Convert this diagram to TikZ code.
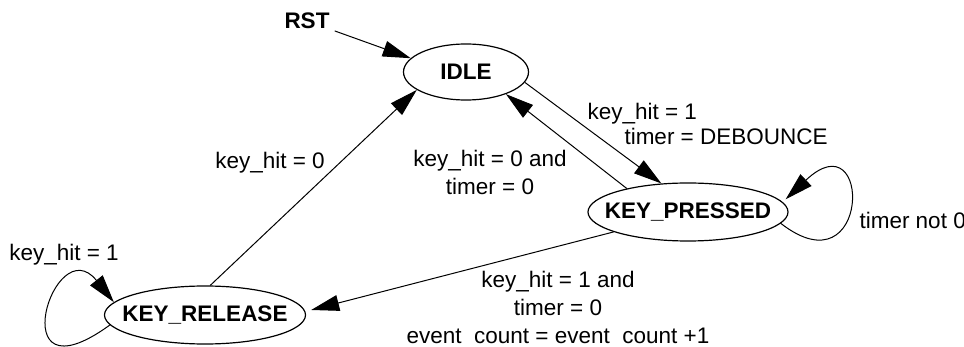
\documentclass[tikz,border=0pt]{standalone}
\usepackage{fontspec}
\setmainfont{Liberation Sans}
\usetikzlibrary{shapes.geometric, arrows.meta}

\begin{document}
\begin{tikzpicture}[x=1pt, y=1pt, line width=1pt,
    every node/.style={font=\fontsize{22.5}{28}\selectfont, inner sep=0pt},
    fsmstate/.style={ellipse, draw, line width=1.2pt, inner xsep=-20pt, minimum height=58pt,
      font=\fontsize{22.5}{28}\selectfont\bfseries},
    trans/.style={-{Triangle[length=28pt, width=16pt]}}]
    \useasboundingbox (0,0) rectangle (964,-347);

    % states
    \node[font=\fontsize{22.5}{28}\selectfont\bfseries] (rst) at (307,-21) {RST};
    \node[fsmstate, minimum width=125pt, minimum height=56pt] (idle) at (466,-72) {IDLE};
    \node[fsmstate, minimum width=200pt] (pressed) at (688,-212) {KEY\_PRESSED};
    \node[fsmstate, minimum width=201pt] (release) at (205,-315) {KEY\_RELEASE};

    % transition labels
    \node[anchor=west, align=left] (lhit) at (587,-124) {key\_hit = 1\\[-3pt]\hspace*{37pt}timer = DEBOUNCE};
    \node[align=center] (lzero) at (490,-172) {key\_hit = 0 and\\timer = 0};
    \node (lrel) at (270,-163) {key\_hit = 0};
    \node (lloop) at (64,-255) {key\_hit = 1};
    \node[anchor=west] (ltimer) at (859,-220) {timer not 0};
    \node[align=center] (lcount) at (558,-307) {key\_hit = 1 and\\timer = 0\\event\hphantom{\_}count = event\hphantom{\_}count +1};

    % transitions
    \draw[trans, shorten <=5pt] (rst) -- (idle.166);
    \draw[trans] (idle.-10) -- (pressed.133);
    \draw[trans] (pressed.159) -- (idle.-29);
    \draw[trans] (release.80) -- (idle.200);
    \draw[trans, shorten >=6pt] (pressed.195) -- (release.2);
    \draw[trans, shorten >=4pt] (pressed.-7) .. controls +(90,-70) and +(90,85) .. (pressed.6);
    \draw[trans] (release.186) .. controls +(-110,-80) and +(-60,75) .. (release.172);
\end{tikzpicture}
\end{document}
